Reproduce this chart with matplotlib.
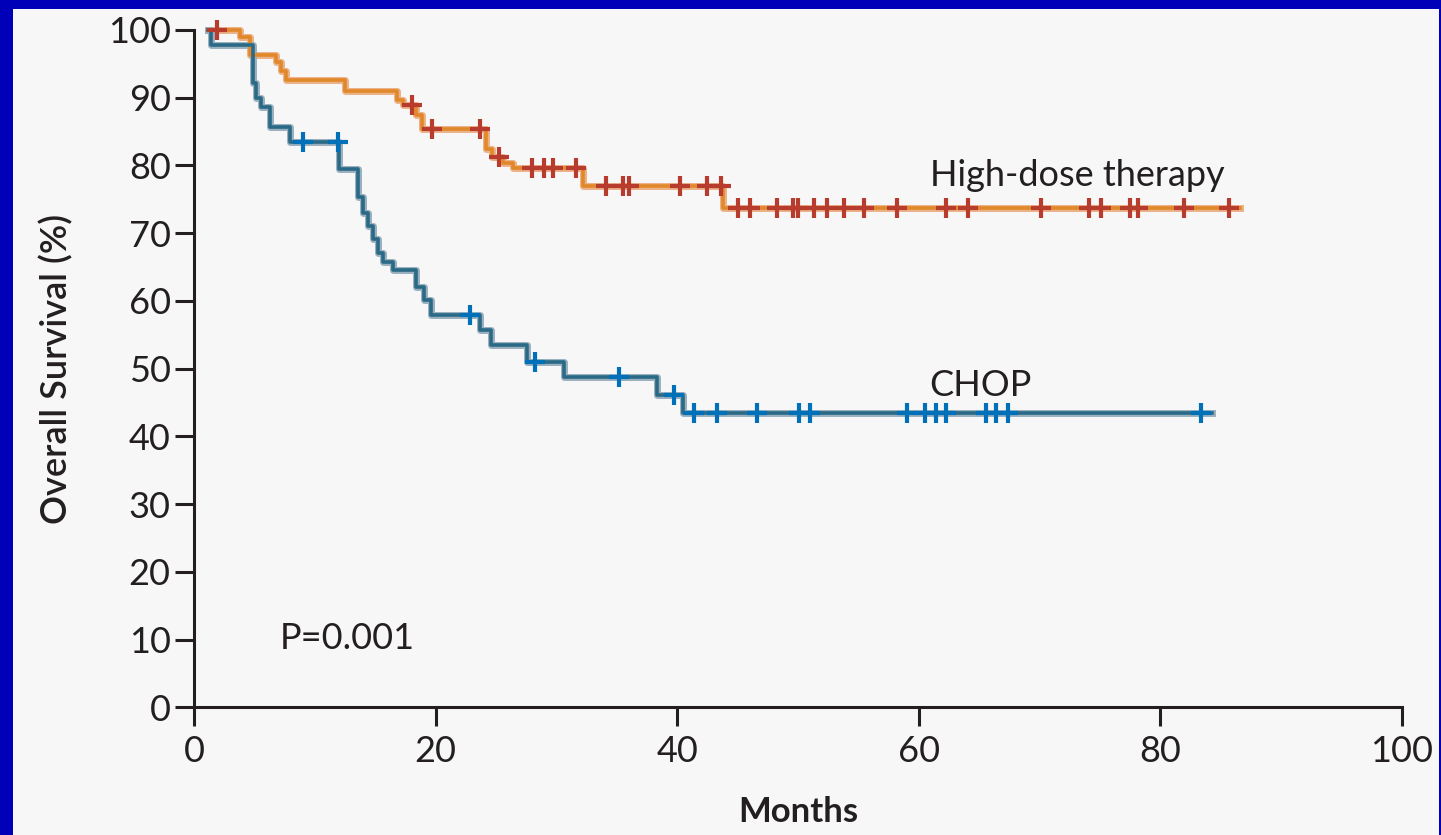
import numpy as np
import matplotlib
matplotlib.use("Agg")
import matplotlib.pyplot as plt
from matplotlib.patches import Rectangle

# High-dose therapy arm: time of each step (months) and survival after it (%)
hdt_t = [1.1, 3.8, 4.6, 6.8, 7.2, 7.6, 12.5, 16.8, 17.3, 18.4, 18.9, 24.2,
         24.7, 25.6, 26.4, 32.2, 43.8, 86.6]
hdt_s = [100, 99.0, 96.3, 95.2, 94.0, 92.6, 91.0, 89.6, 88.9, 87.4, 85.4, 82.5,
         81.3, 80.4, 79.6, 76.9, 73.7, 73.7]
# censored patients (months)
hdt_cens = [1.9, 18.0, 19.7, 23.7, 25.2, 28.0, 29.0, 29.7, 31.6, 34.1, 35.5,
            36.0, 40.2, 42.5, 43.6, 45.0, 46.0, 48.3, 49.6, 50.0, 51.3, 52.4,
            53.8, 55.5, 58.2, 62.3, 64.1, 70.1, 74.1, 75.1, 77.5, 78.2, 82.0, 85.7]

# CHOP arm
chop_t = [1.1, 1.4, 4.9, 5.1, 5.5, 6.3, 7.9, 12.0, 13.6, 14.0, 14.4, 14.8,
          15.2, 15.6, 16.5, 18.4, 19.0, 19.6, 23.7, 24.6, 27.6, 30.6, 38.3,
          40.5, 84.3]
chop_s = [100, 97.8, 92.1, 89.9, 88.7, 85.7, 83.5, 79.5, 75.4, 73.0, 71.0, 69.1,
          67.1, 65.8, 64.5, 62.1, 60.1, 57.9, 55.7, 53.5, 51.0, 48.8, 46.1,
          43.4, 43.4]
chop_cens = [9.0, 11.9, 22.8, 28.2, 35.2, 39.7, 41.4, 43.3, 46.6, 50.1, 51.0,
             59.0, 60.5, 61.4, 62.3, 65.6, 66.4, 67.4, 83.4]

xticks = [0, 20, 40, 60, 80, 100]
yticks = list(range(0, 101, 10))

plt.rcParams['font.family'] = ['Lato', 'DejaVu Sans']
ink = '#231f20'


def surv_at(t, s, when):
    # value of the step curve at the censoring times
    idx = np.searchsorted(t, when, side='right') - 1
    return np.asarray(s)[idx]


fig = plt.figure(figsize=(14.41, 8.35), dpi=100, facecolor='#f7f7f7')
ax = fig.add_axes([0.1348, 0.1529, 0.8379, 0.8112])
ax.set_facecolor('#f7f7f7')

# orange arm
ax.step(hdt_t, hdt_s, where='post', color='#ecb287', lw=5.0, clip_on=False, zorder=2)
ax.step(hdt_t, hdt_s, where='post', color='#e0882a', lw=2.6, clip_on=False, zorder=3)
ax.plot(hdt_cens, surv_at(hdt_t, hdt_s, hdt_cens), '+', color='#b83c2e',
        ms=14, mew=3.0, clip_on=False, zorder=4)

# blue arm
ax.step(chop_t, chop_s, where='post', color='#9ab0be', lw=5.0, clip_on=False, zorder=2)
ax.step(chop_t, chop_s, where='post', color='#2b6a86', lw=2.6, clip_on=False, zorder=3)
ax.plot(chop_cens, surv_at(chop_t, chop_s, chop_cens), '+', color='#0070b8',
        ms=14, mew=3.0, clip_on=False, zorder=4)

ax.set_xlim(0, 100)
ax.set_ylim(0, 100)
ax.set_xticks(xticks)
ax.set_yticks(yticks)
for side in ['top', 'right']:
    ax.spines[side].set_visible(False)
for side in ['left', 'bottom']:
    ax.spines[side].set_linewidth(2.2)
    ax.spines[side].set_color(ink)
ax.tick_params(length=14, width=2.2, color=ink, labelcolor=ink, labelsize=26)
ax.tick_params(axis='x', pad=6)
ax.tick_params(axis='y', pad=3)

ax.set_ylabel('Overall Survival (%)', fontsize=26, fontweight='semibold', color=ink)
ax.yaxis.set_label_coords(-0.100, 0.5)
ax.text(0.5, -0.169, 'Months', transform=ax.transAxes, ha='center', va='baseline',
        fontsize=25, fontweight='bold', color=ink)

ax.text(60.95, 76.9, 'High-dose therapy', fontsize=26, color=ink, va='baseline')
ax.text(60.9, 45.9, 'CHOP', fontsize=26, color=ink, va='baseline')
ax.text(7.1, 8.56, 'P=0.001', fontsize=26, color=ink, va='baseline')

# blue frame round the panel
blue = '#0000b8'
fig.add_artist(Rectangle((0, 0), 13 / 1441, 1, transform=fig.transFigure, color=blue, lw=0))
fig.add_artist(Rectangle((0, 1 - 9 / 835), 1, 9 / 835, transform=fig.transFigure, color=blue, lw=0))
fig.add_artist(Rectangle((1439 / 1441, 0), 2 / 1441, 1, transform=fig.transFigure, color=blue, lw=0))

fig.savefig('out.png', dpi=100, facecolor=fig.get_facecolor())
